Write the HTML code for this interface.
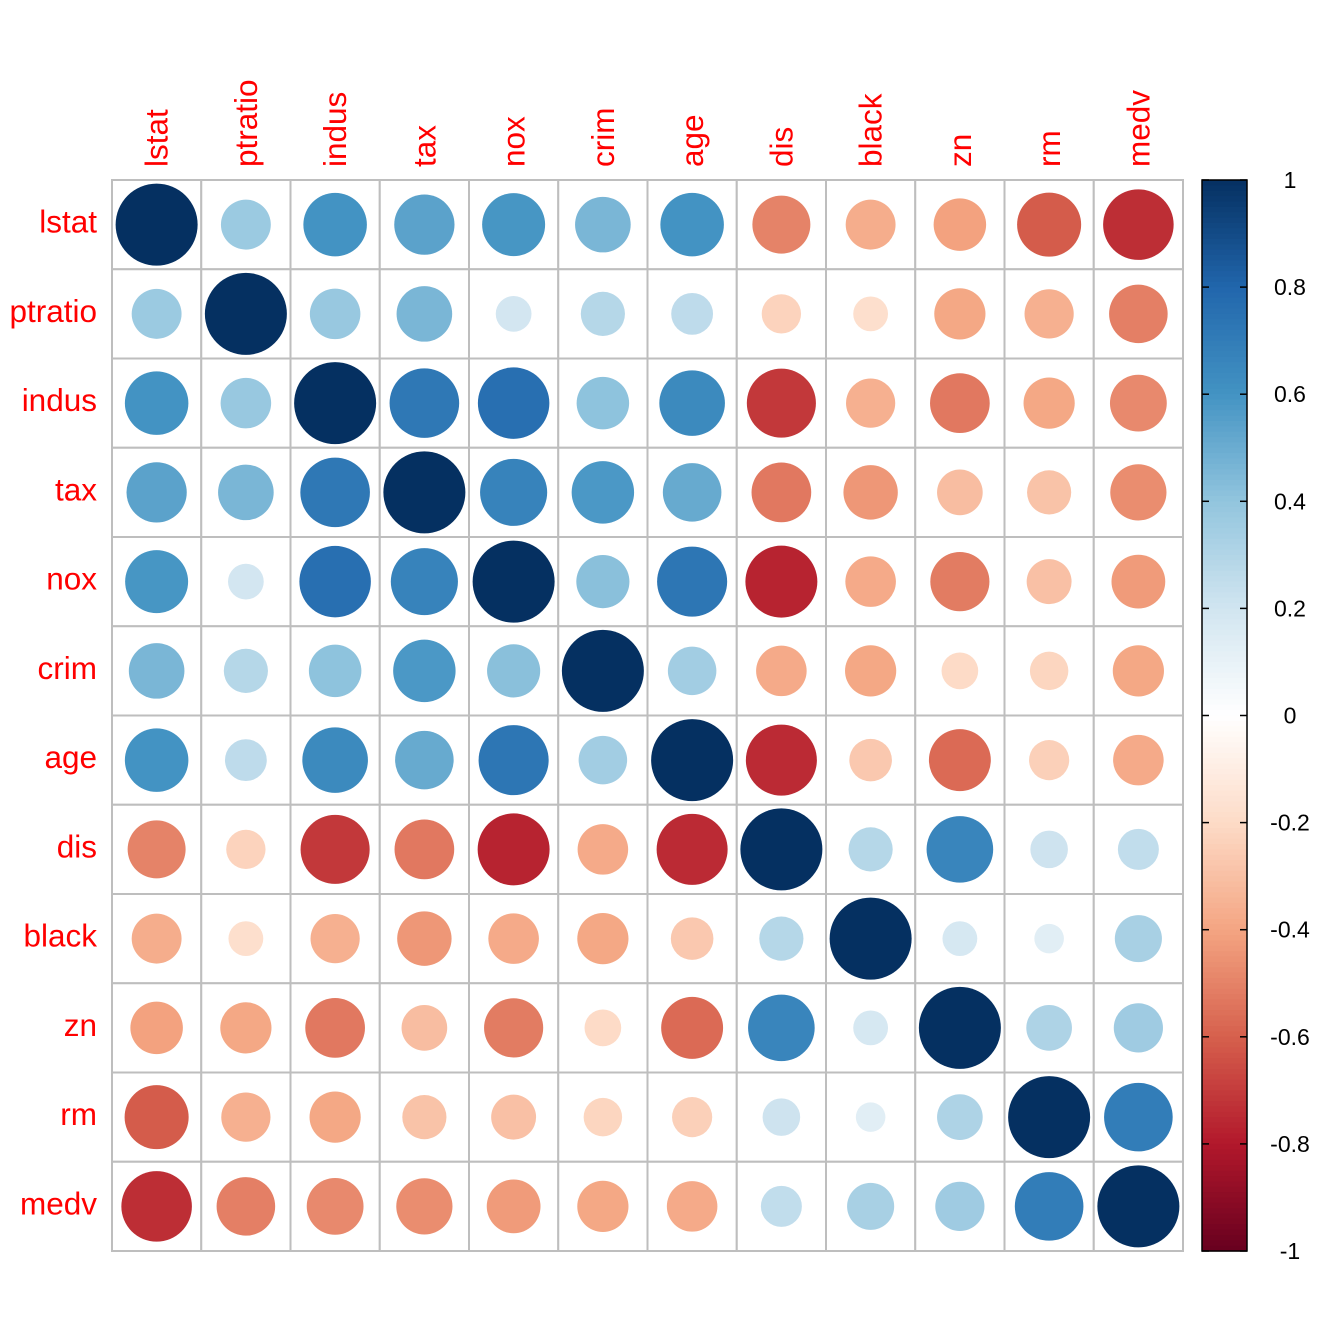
<!DOCTYPE html>
<html><head><meta charset="utf-8"><style>
body{margin:0;background:#fff}
svg{display:block}
text{font-family:"Liberation Sans",sans-serif}
</style></head><body>
<svg id="chart" width="1344" height="1344" xmlns="http://www.w3.org/2000/svg"></svg>
<script>
const variables=["lstat","ptratio","indus","tax","nox","crim","age","dis","black","zn","rm","medv"];
const pairValues={
"crim-zn":-0.20,"crim-indus":0.41,"crim-nox":0.42,"crim-rm":-0.22,"crim-age":0.35,"crim-dis":-0.38,"crim-tax":0.58,"crim-ptratio":0.29,"crim-black":-0.39,"crim-lstat":0.46,"crim-medv":-0.39,
"zn-indus":-0.53,"zn-nox":-0.52,"zn-rm":0.31,"zn-age":-0.57,"zn-dis":0.66,"zn-tax":-0.31,"zn-ptratio":-0.39,"zn-black":0.18,"zn-lstat":-0.41,"zn-medv":0.36,
"indus-nox":0.76,"indus-rm":-0.39,"indus-age":0.64,"indus-dis":-0.71,"indus-tax":0.72,"indus-ptratio":0.38,"indus-black":-0.36,"indus-lstat":0.60,"indus-medv":-0.48,
"nox-rm":-0.30,"nox-age":0.73,"nox-dis":-0.77,"nox-tax":0.67,"nox-ptratio":0.19,"nox-black":-0.38,"nox-lstat":0.59,"nox-medv":-0.43,
"rm-age":-0.24,"rm-dis":0.21,"rm-tax":-0.29,"rm-ptratio":-0.36,"rm-black":0.13,"rm-lstat":-0.61,"rm-medv":0.70,
"age-dis":-0.75,"age-tax":0.51,"age-ptratio":0.26,"age-black":-0.27,"age-lstat":0.60,"age-medv":-0.38,
"dis-tax":-0.53,"dis-ptratio":-0.23,"dis-black":0.29,"dis-lstat":-0.50,"dis-medv":0.25,
"tax-ptratio":0.46,"tax-black":-0.44,"tax-lstat":0.54,"tax-medv":-0.47,
"ptratio-black":-0.18,"ptratio-lstat":0.37,"ptratio-medv":-0.51,
"black-lstat":-0.37,"black-medv":0.33,"lstat-medv":-0.74};
const colorbarTicks=["1","0.8","0.6","0.4","0.2","0","-0.2","-0.4","-0.6","-0.8","-1"];
const palette=["#67001F","#B2182B","#D6604D","#F4A582","#FDDBC7","#FFFFFF","#D1E5F0","#92C5DE","#4393C3","#2166AC","#053061"];

const svg=document.getElementById('chart');
const NS="http://www.w3.org/2000/svg";
const x0=112,y0=180,size=1071,n=variables.length,cell=size/n;
function corr(a,b){if(a===b)return 1;return pairValues[a+"-"+b]!==undefined?pairValues[a+"-"+b]:pairValues[b+"-"+a];}
function hex(c){return [1,3,5].map(i=>parseInt(c.substr(i,2),16));}
function colorOf(v){const t=(v+1)/2*(palette.length-1);let i=Math.min(Math.floor(t),palette.length-2);const f=t-i;const a=hex(palette[i]),b=hex(palette[i+1]);return "rgb("+a.map((x,k)=>Math.round(x+(b[k]-x)*f)).join(",")+")";}
function mk(tag,attrs){const e=document.createElementNS(NS,tag);for(const k in attrs)e.setAttribute(k,attrs[k]);svg.appendChild(e);return e;}
variables.forEach((rv,i)=>{variables.forEach((cv,j)=>{
 const c=mk('rect',{x:x0+j*cell,y:y0+i*cell,width:cell,height:cell,fill:'#fff',stroke:'#bebebe','stroke-width':2});
 
 
 const v=corr(rv,cv);
 const circ=mk('circle',{cx:x0+(j+0.5)*cell,cy:y0+(i+0.5)*cell,r:41*Math.sqrt(Math.abs(v)),fill:colorOf(v)});
 
 
});});
variables.forEach((v,i)=>{
 const t=mk('text',{x:97,y:y0+(i+0.5)*cell+8,'text-anchor':'end','font-size':31.5,fill:'#ff0000'});t.textContent=v;
 
 
 const cx=x0+(i+0.5)*cell+11;
 const u=mk('text',{x:cx,y:167,'font-size':31.5,fill:'#ff0000',transform:'rotate(-90 '+cx+' 167)'});u.textContent=v;
 
 
});
const bx=1202,bw=45,steps=200;
for(let k=0;k<steps;k++){const v=1-2*(k+0.5)/steps;
 const r=mk('rect',{x:bx,y:y0+k*size/steps,width:bw,height:size/steps+0.6,fill:colorOf(v)});
 
 }
const frame=mk('rect',{x:bx,y:y0,width:bw,height:size,fill:'none',stroke:'#000','stroke-width':1.5});


colorbarTicks.forEach((lab,k)=>{const y=y0+k*size/(colorbarTicks.length-1);
 const l=mk('line',{x1:bx+bw-7,x2:bx+bw,y1:y,y2:y,stroke:'#000','stroke-width':1.5});
 
 
 const l2=mk('line',{x1:bx,x2:bx+7,y1:y,y2:y,stroke:'#000','stroke-width':1.5});
 
 
 const t=mk('text',{x:1290,y:y+8,'text-anchor':'middle','font-size':23,fill:'#000'});t.textContent=lab;
 
 
});
</script>
</body></html>
